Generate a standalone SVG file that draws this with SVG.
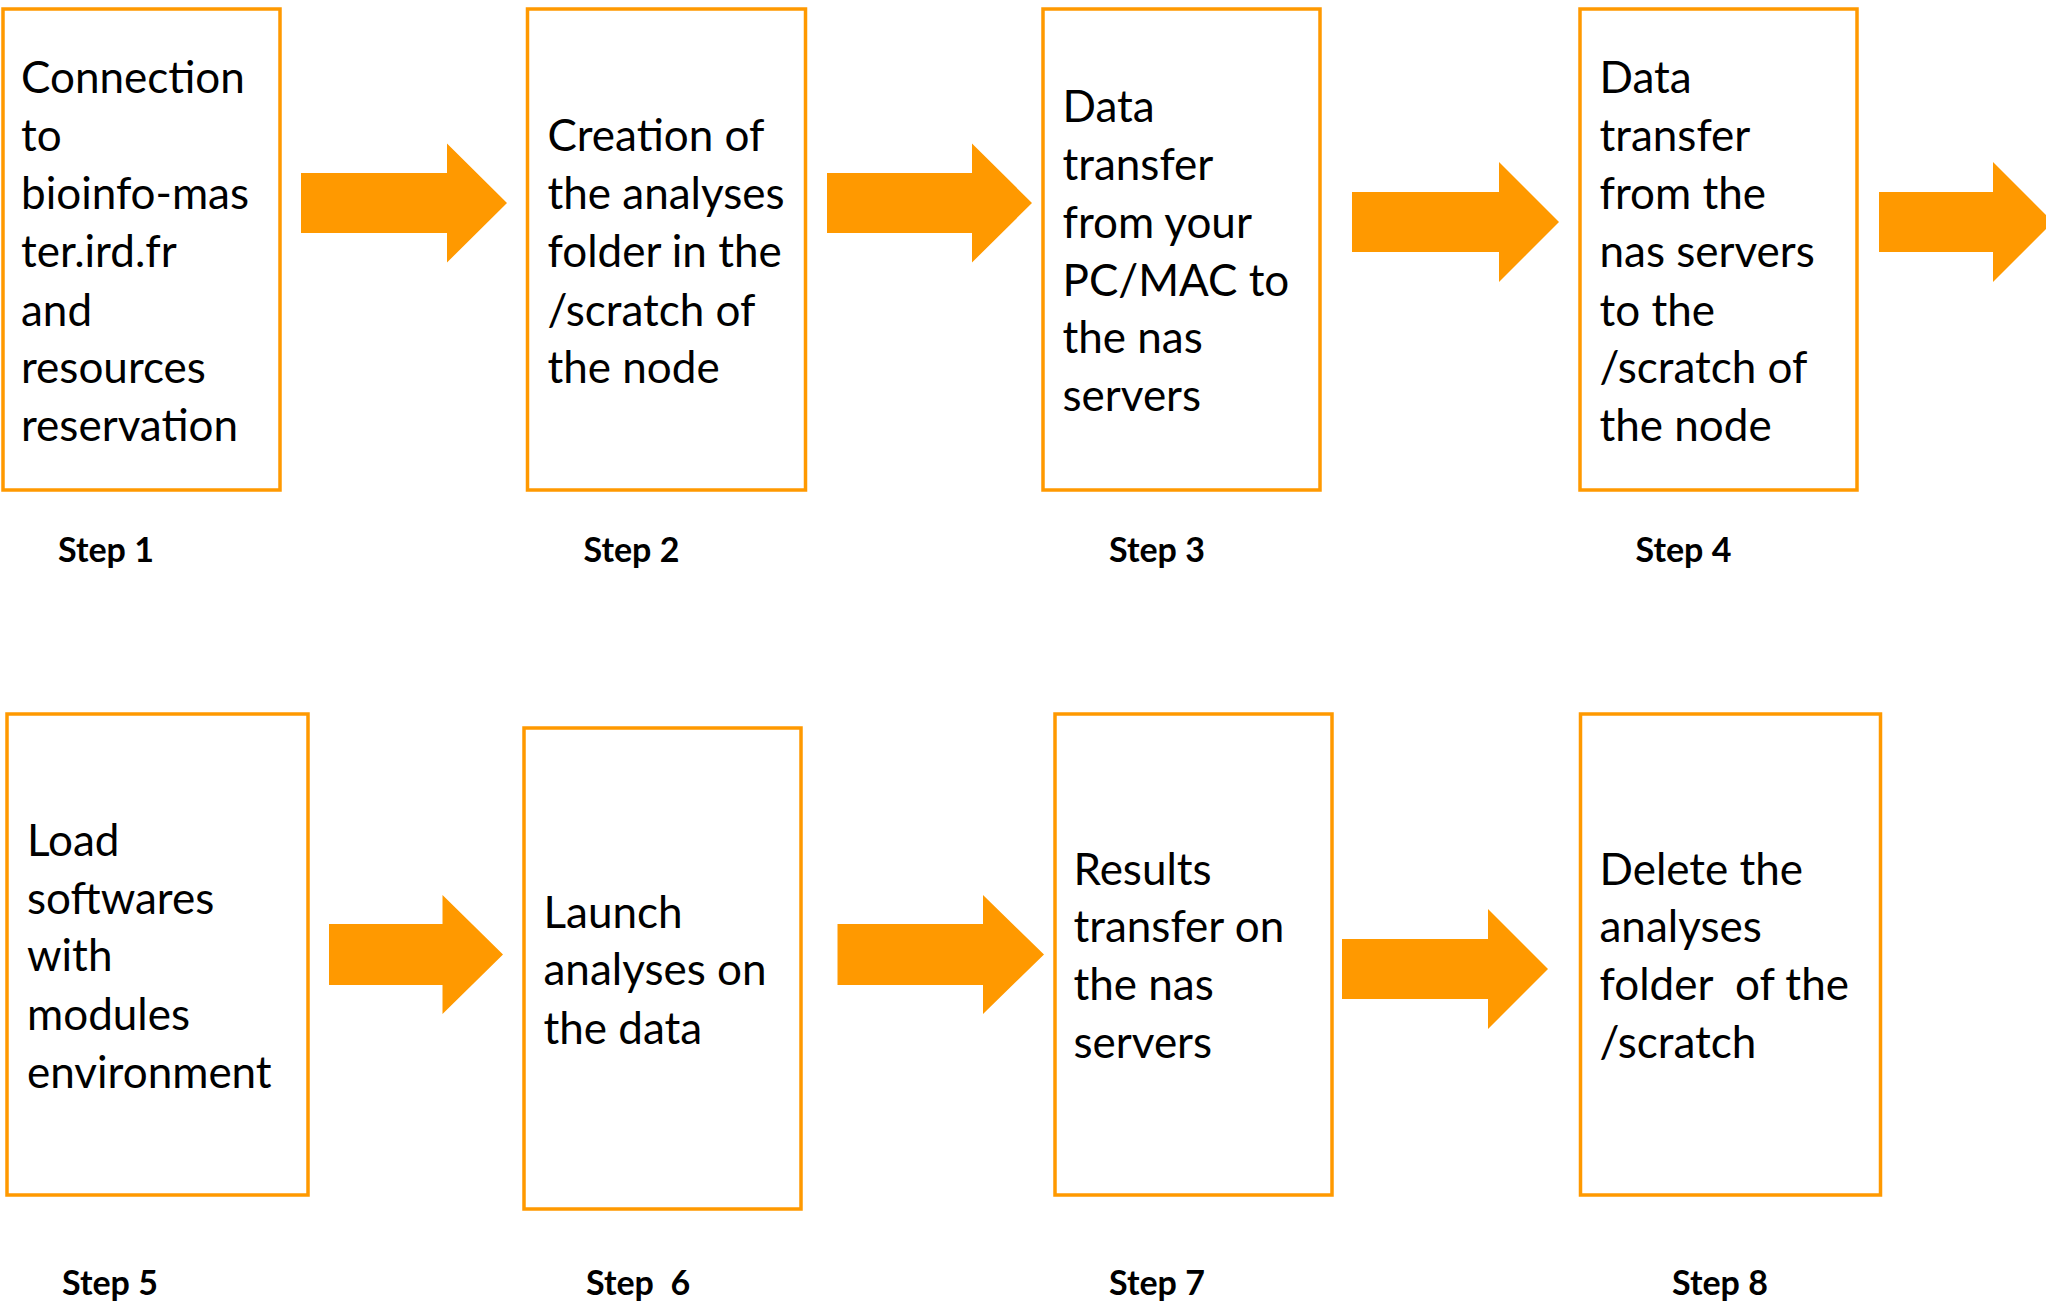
<svg xmlns="http://www.w3.org/2000/svg" width="2046" height="1303" viewBox="0 0 2046 1303">
<style>
.box{fill:#FFFFFF;stroke:#FF9900;stroke-width:3.5}
.arrow{fill:#FF9900}
.t{font-family:Lato,"Open Sans","Liberation Sans",sans-serif;font-size:44px;fill:#000}
.s{font-family:Lato,"Open Sans","Liberation Sans",sans-serif;font-size:34px;font-weight:bold;fill:#000}
</style>
<rect width="2046" height="1303" fill="#FFFFFF"/>
<g id="connectors">
<polygon class="arrow" points="301,173 447,173 447,143.5 507,203 447,262.5 447,233 301,233"/>
<polygon class="arrow" points="827,173 972,173 972,143.5 1032,203 972,262.5 972,233 827,233"/>
<polygon class="arrow" points="1352,192 1499,192 1499,162 1559,222 1499,282 1499,252 1352,252"/>
<polygon class="arrow" points="1879,192 1993,192 1993,162 2053,222 1993,282 1993,252 1879,252"/>
<polygon class="arrow" points="329,924 442.5,924 442.5,895 503,954.5 442.5,1014 442.5,985 329,985"/>
<polygon class="arrow" points="837.5,924 983,924 983,895 1044,954.5 983,1014 983,985 837.5,985"/>
<polygon class="arrow" points="1342,939 1488,939 1488,909 1548,969 1488,1029 1488,999 1342,999"/>
</g>
<g id="step1">
<rect class="box" x="3" y="9" width="277" height="481"/>
<text class="t"><tspan x="21" y="92.5">Connection</tspan><tspan x="21" y="151">to</tspan><tspan x="21" y="209">bioinfo-mas</tspan><tspan x="21" y="267">ter.ird.fr</tspan><tspan x="21" y="325.5">and</tspan><tspan x="21" y="383">resources</tspan><tspan x="21" y="441">reservation</tspan></text>
<text class="s" x="58" y="562">Step 1</text>
</g>
<g id="step2">
<rect class="box" x="527.5" y="9" width="278" height="481"/>
<text class="t"><tspan x="547.5" y="151">Creation of</tspan><tspan x="547.5" y="209">the analyses</tspan><tspan x="547.5" y="267">folder in the</tspan><tspan x="547.5" y="325.5">/scratch of</tspan><tspan x="547.5" y="383">the node</tspan></text>
<text class="s" x="583.5" y="562">Step 2</text>
</g>
<g id="step3">
<rect class="box" x="1043" y="9" width="277" height="481"/>
<text class="t"><tspan x="1062.5" y="122">Data</tspan><tspan x="1062.5" y="180">transfer</tspan><tspan x="1062.5" y="238">from your</tspan><tspan x="1062.5" y="296">PC/MAC to</tspan><tspan x="1062.5" y="353">the nas</tspan><tspan x="1062.5" y="411">servers</tspan></text>
<text class="s" x="1109" y="562">Step 3</text>
</g>
<g id="step4">
<rect class="box" x="1580" y="9" width="277" height="481"/>
<text class="t"><tspan x="1599.5" y="92.5">Data</tspan><tspan x="1599.5" y="151">transfer</tspan><tspan x="1599.5" y="209">from the</tspan><tspan x="1599.5" y="267">nas servers</tspan><tspan x="1599.5" y="325.5">to the</tspan><tspan x="1599.5" y="383">/scratch of</tspan><tspan x="1599.5" y="441">the node</tspan></text>
<text class="s" x="1635.5" y="562">Step 4</text>
</g>
<g id="step5">
<rect class="box" x="7" y="714" width="301" height="481"/>
<text class="t"><tspan x="27" y="856">Load</tspan><tspan x="27" y="913.5">softwares</tspan><tspan x="27" y="971">with</tspan><tspan x="27" y="1029.5">modules</tspan><tspan x="27" y="1087.5">environment</tspan></text>
<text class="s" x="62" y="1295">Step 5</text>
</g>
<g id="step6">
<rect class="box" x="524" y="728" width="277" height="481"/>
<text class="t"><tspan x="543.5" y="927.5">Launch</tspan><tspan x="543.5" y="985">analyses on</tspan><tspan x="543.5" y="1043.5">the data</tspan></text>
<text class="s" x="586" y="1295" xml:space="preserve">Step  6</text>
</g>
<g id="step7">
<rect class="box" x="1055" y="714" width="277" height="481"/>
<text class="t"><tspan x="1073.5" y="884.5">Results</tspan><tspan x="1073.5" y="942">transfer on</tspan><tspan x="1073.5" y="1000">the nas</tspan><tspan x="1073.5" y="1057.5">servers</tspan></text>
<text class="s" x="1109" y="1295">Step 7</text>
</g>
<g id="step8">
<rect class="box" x="1580.5" y="714" width="300" height="481"/>
<text class="t" xml:space="preserve"><tspan x="1599.5" y="884.5">Delete the</tspan><tspan x="1599.5" y="942">analyses</tspan><tspan x="1599.5" y="1000">folder  of the</tspan><tspan x="1599.5" y="1057.5">/scratch</tspan></text>
<text class="s" x="1672" y="1295">Step 8</text>
</g>
</svg>
